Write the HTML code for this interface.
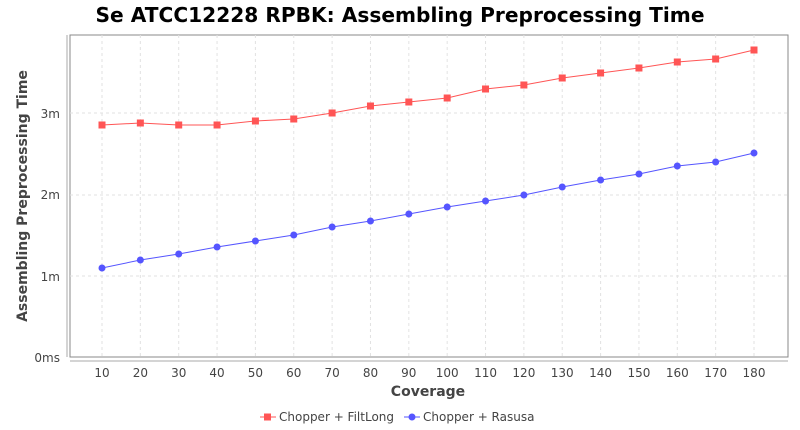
<!DOCTYPE html>
<html><head><meta charset="utf-8"><style>body{margin:0;background:#fff}svg{display:block;font-family:"DejaVu Sans","Liberation Sans",sans-serif}</style></head><body>
<svg width="800" height="430" xmlns="http://www.w3.org/2000/svg">
<text x="400" y="22" text-anchor="middle" font-size="20" font-weight="bold" textLength="609" lengthAdjust="spacingAndGlyphs">Se ATCC12228 RPBK: Assembling Preprocessing Time</text>
<rect x="70" y="35" width="718" height="322" fill="#fff" stroke="#888"/>
<g stroke="#e2e2e2" stroke-dasharray="3,3">
<line x1="70" x2="788" y1="276" y2="276"/><line x1="70" x2="788" y1="195" y2="195"/><line x1="70" x2="788" y1="113" y2="113"/>
</g>
<g id="vg" stroke="#e2e2e2" stroke-dasharray="3,3"></g>
<line x1="67" y1="35" x2="67" y2="357" stroke="#aaa"/>
<line x1="70" y1="361" x2="788" y2="361" stroke="#aaa"/>
<g font-size="12" fill="#444" text-anchor="end">
<text x="60" y="362">0ms</text><text x="60" y="281">1m</text><text x="60" y="199">2m</text><text x="60" y="118">3m</text>
</g>
<g id="xl" font-size="12" fill="#444" text-anchor="middle"></g>
<text x="428" y="396" text-anchor="middle" font-size="14" font-weight="bold" fill="#444">Coverage</text>
<text transform="translate(27,196) rotate(-90)" text-anchor="middle" font-size="14" font-weight="bold" fill="#444">Assembling Preprocessing Time</text>
<polyline id="r" fill="none" stroke="#ff5555" stroke-width="1"/>
<polyline id="b" fill="none" stroke="#5555ff" stroke-width="1"/>
<g id="pts"></g>
<line x1="260" y1="417" x2="276" y2="417" stroke="#ff5555"/><rect x="264" y="413.5" width="7" height="7" fill="#ff5555"/>
<text x="279" y="421" font-size="12" fill="#444">Chopper + FiltLong</text>
<line x1="404" y1="417" x2="420" y2="417" stroke="#5555ff"/><circle cx="412" cy="417" r="3.5" fill="#5555ff"/>
<text x="423" y="421" font-size="12" fill="#444">Chopper + Rasusa</text>
</svg>
<script>
var r=[125,123,125,125,121,119,113,106,102,98,89,85,78,73,68,62,59,50];
var b=[268,260,254,247,241,235,227,221,214,207,201,195,187,180,174,166,162,153];
var ns="http://www.w3.org/2000/svg",rp=[],bp=[],pts=document.getElementById('pts'),vg=document.getElementById('vg'),xl=document.getElementById('xl');
for(var i=0;i<18;i++){var x=102+i*652/17;rp.push(x+','+r[i]);bp.push(x+','+b[i]);
var l=document.createElementNS(ns,'line');l.setAttribute('x1',x);l.setAttribute('x2',x);l.setAttribute('y1',35);l.setAttribute('y2',357);vg.appendChild(l);
var t=document.createElementNS(ns,'text');t.setAttribute('x',x);t.setAttribute('y',377);t.textContent=(i+1)*10;xl.appendChild(t);
var s=document.createElementNS(ns,'rect');s.setAttribute('x',x-3.5);s.setAttribute('y',r[i]-3.5);s.setAttribute('width',7);s.setAttribute('height',7);s.setAttribute('fill','#ff5555');pts.appendChild(s);
var c=document.createElementNS(ns,'circle');c.setAttribute('cx',x);c.setAttribute('cy',b[i]);c.setAttribute('r',3.5);c.setAttribute('fill','#5555ff');pts.appendChild(c);}
document.getElementById('r').setAttribute('points',rp.join(' '));
document.getElementById('b').setAttribute('points',bp.join(' '));
</script>
</body></html>
